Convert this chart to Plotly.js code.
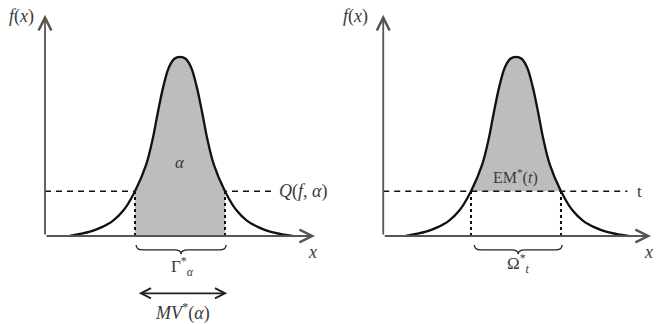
<!DOCTYPE html>
<html>
<head>
<meta charset="utf-8">
<script src="https://cdn.plot.ly/plotly-3.0.1.min.js"></script>
<style>html,body{margin:0;padding:0;background:#fff;}#chart{width:666px;height:324px;}</style>
</head>
<body>
<div id="chart"></div>
<script>
// Density curve (same curve in both panels)
const curveX = [-4.9, -4.5, -4, -3.5, -3, -2.5, -2, -1.5, -1.2, -1, -0.75, -0.5, -0.25, 0, 0.25, 0.5, 0.75, 1, 1.2, 1.5, 2, 2.5, 3, 3.5, 4, 4.5, 5.0];
const curveY = [0.0, 0.01, 0.024, 0.048, 0.083, 0.145, 0.25, 0.40, 0.55, 0.68, 0.83, 0.94, 0.99, 1.0, 0.99, 0.94, 0.83, 0.68, 0.55, 0.40, 0.25, 0.145, 0.083, 0.048, 0.024, 0.01, 0.0];
// Level (threshold) and the interval where f >= level
const level = 0.25;
const setLo = -2, setHi = 2;
// Axis extents
const axisXmin = -6, axisXmax = 6, axisYtop = 1.235;
// Labels
const leftLabels = {fx: '<i>f</i>(<i>x</i>)', x: '<i>x</i>', area: '<i>α</i>', level: '<i>Q</i>(<i>f</i>, <i>α</i>)', set: 'Γ<sup>*</sup><sub><i>α</i></sub>', measure: '<i>MV</i><sup>*</sup>(<i>α</i>)'};
const rightLabels = {fx: '<i>f</i>(<i>x</i>)', x: '<i>x</i>', area: 'EM<sup>*</sup>(<i>t</i>)', level: 't', set: 'Ω<sup>*</sup><sub><i>t</i></sub>'};

const FONT = 'Liberation Serif';
const AX = '#555';
const TXT = '#3a3a3a';
const GRAY = '#bdbdbd';

const inX = [], inY = [];
curveX.forEach((x, i) => { if (x >= setLo - 1e-9 && x <= setHi + 1e-9) { inX.push(x); inY.push(curveY[i]); } });

const traces = [
  {x: inX, y: inY, xaxis: 'x', yaxis: 'y', mode: 'lines', line: {width: 0, shape: 'spline'}, fill: 'tozeroy', fillcolor: GRAY, hoverinfo: 'skip'},
  {x: curveX, y: curveY, xaxis: 'x', yaxis: 'y', mode: 'lines', line: {color: '#111', width: 2.3, shape: 'spline'}, hoverinfo: 'skip'},
  {x: [setLo, setHi], y: [level, level], xaxis: 'x2', yaxis: 'y2', mode: 'lines', line: {width: 0}, hoverinfo: 'skip'},
  {x: inX, y: inY, xaxis: 'x2', yaxis: 'y2', mode: 'lines', line: {width: 0, shape: 'spline'}, fill: 'tonexty', fillcolor: GRAY, hoverinfo: 'skip'},
  {x: curveX, y: curveY, xaxis: 'x2', yaxis: 'y2', mode: 'lines', line: {color: '#111', width: 2.3, shape: 'spline'}, hoverinfo: 'skip'}
];

function brace(a, b, y0, xr, yr) {
  const y1 = y0 - 0.028, y2 = y1 - 0.024, r = 0.3, m = (a + b) / 2;
  return {type: 'path', xref: xr, yref: yr, line: {color: '#222', width: 1.3},
    path: `M ${a},${y0} Q ${a},${y1} ${a + r},${y1} L ${m - r},${y1} Q ${m},${y1} ${m},${y2} Q ${m},${y1} ${m + r},${y1} L ${b - r},${y1} Q ${b},${y1} ${b},${y0}`};
}

const shapes = [
  {type: 'line', xref: 'x', yref: 'y', x0: axisXmin, x1: 4.2, y0: level, y1: level, layer: 'below', line: {color: '#111', width: 1.4, dash: '6px,5px'}},
  {type: 'line', xref: 'x', yref: 'y', x0: setLo, x1: setLo, y0: 0, y1: level, line: {color: '#111', width: 2, dash: 'dot'}},
  {type: 'line', xref: 'x', yref: 'y', x0: setHi, x1: setHi, y0: 0, y1: level, line: {color: '#111', width: 2, dash: 'dot'}},
  brace(setLo + 0.05, setHi + 0.05, -0.05, 'x', 'y'),
  {type: 'line', xref: 'x2', yref: 'y2', x0: axisXmin + 0.1, x1: 4.95, y0: level, y1: level, layer: 'above', line: {color: '#111', width: 1.4, dash: '6px,5px'}},
  {type: 'line', xref: 'x2', yref: 'y2', x0: setLo, x1: setLo, y0: 0, y1: level, line: {color: '#111', width: 2, dash: 'dot'}},
  {type: 'line', xref: 'x2', yref: 'y2', x0: setHi, x1: setHi, y0: 0, y1: level, line: {color: '#111', width: 2, dash: 'dot'}},
  brace(setLo + 0.15, setHi + 0.05, -0.05, 'x2', 'y2')
];

function axisArrow(xr, yr, x, y, ax, ay, side, color, size) {
  return {xref: xr, yref: yr, axref: xr, ayref: yr, x: x, y: y, ax: ax, ay: ay, text: '', showarrow: true,
    arrowhead: 5, arrowsize: size || 1.1, arrowwidth: 1.8, arrowcolor: color || AX, standoff: 0, startstandoff: 0,
    startarrowhead: 5, startarrowsize: size || 1.1, arrowside: side || 'end'};
}
function label(xr, yr, x, y, text, size, extra) {
  return Object.assign({xref: xr, yref: yr, x: x, y: y, text: text, showarrow: false, font: {family: FONT, size: size, color: TXT}}, extra || {});
}

const annotations = [
  axisArrow('x', 'y', axisXmax, 0, axisXmin, 0, 'end', AX, 1.4),
  axisArrow('x', 'y', axisXmin, axisYtop, axisXmin, 0, 'end', AX, 1.4),
  label('x', 'y', -7.05, 1.225, leftLabels.fx, 18),
  label('x', 'y', 5.9, -0.09, leftLabels.x, 18),
  label('x', 'y', 0, 0.41, leftLabels.area, 17),
  label('x', 'y', 4.3, 0.25, leftLabels.level, 18, {xanchor: 'left'}),
  label('x', 'y', 0.1, -0.17, leftLabels.set, 17),
  axisArrow('x', 'y', setHi + 0.1, -0.32, setLo + 0.1, -0.32, 'end+start', '#222'),
  label('x', 'y', 0.1, -0.425, leftLabels.measure, 18),
  axisArrow('x2', 'y2', axisXmax, 0, axisXmin + 0.1, 0, 'end', AX, 1.4),
  axisArrow('x2', 'y2', axisXmin + 0.1, axisYtop, axisXmin + 0.1, 0, 'end', AX, 1.4),
  label('x2', 'y2', -7.15, 1.225, rightLabels.fx, 18),
  label('x2', 'y2', 5.9, -0.09, rightLabels.x, 18),
  label('x2', 'y2', 0, 0.33, rightLabels.area, 16),
  label('x2', 'y2', 5.5, 0.25, rightLabels.level, 17),
  label('x2', 'y2', 0.1, -0.155, rightLabels.set, 17)
];

const hidden = {visible: false, showgrid: false, zeroline: false, fixedrange: true};
const layout = {
  width: 666, height: 324, autosize: false,
  margin: {l: 0, r: 0, t: 0, b: 0, pad: 0},
  paper_bgcolor: '#fff', plot_bgcolor: '#fff',
  showlegend: false,
  xaxis: Object.assign({domain: [0, 0.5], range: [-8, 6.8]}, hidden),
  yaxis: Object.assign({domain: [0, 1], range: [-0.4916, 1.318]}, hidden),
  xaxis2: Object.assign({domain: [0.5, 1], range: [-8.133, 6.667], anchor: 'y2'}, hidden),
  yaxis2: Object.assign({domain: [0, 1], range: [-0.4916, 1.318], anchor: 'x2'}, hidden),
  shapes: shapes,
  annotations: annotations
};

Plotly.newPlot('chart', traces, layout, {staticPlot: true, displayModeBar: false});
</script>
</body>
</html>
